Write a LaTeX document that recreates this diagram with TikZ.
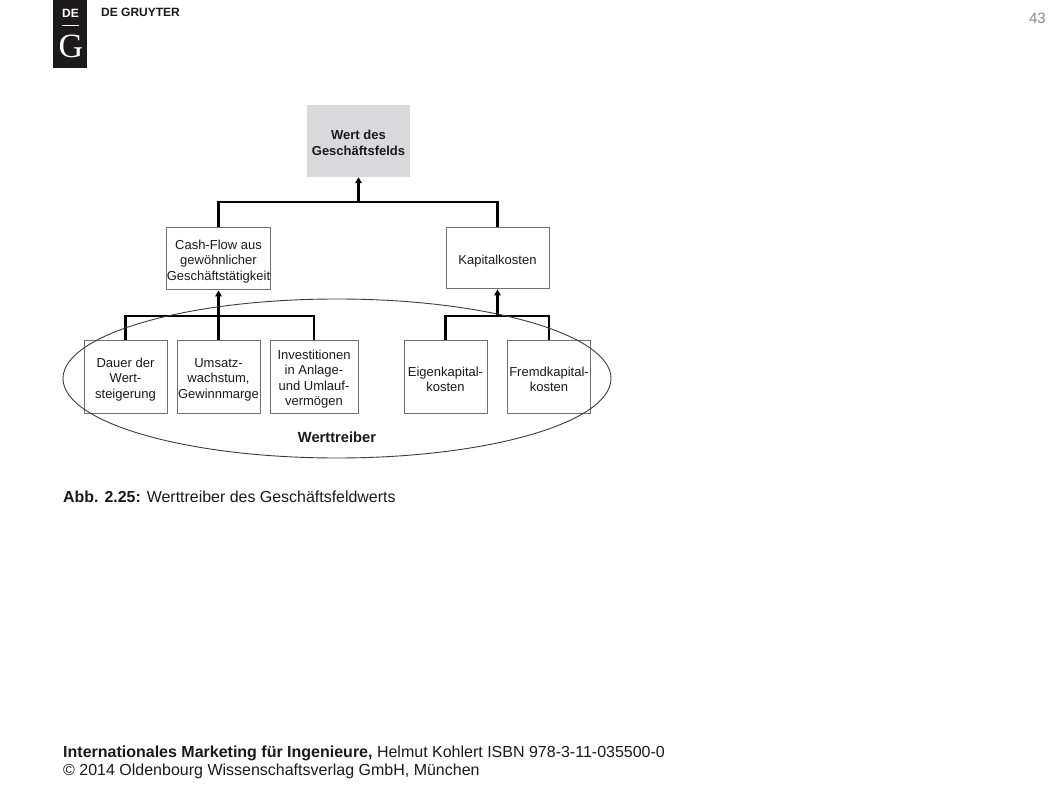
\documentclass[tikz,border=0pt]{standalone}
\usepackage{fontspec}
\setmainfont{Liberation Sans}
\newfontfamily\serifface{Liberation Serif}
\usetikzlibrary{shapes.geometric,arrows.meta}
\definecolor{boxline}{HTML}{707070}
\definecolor{topfill}{HTML}{D9D9DB}
\definecolor{inkc}{HTML}{1A1A1A}
\definecolor{logoc}{HTML}{1C1A1B}
\definecolor{pagec}{HTML}{8A8A8A}
\tikzset{
  x=1pt,y=-1pt,
  box/.style={draw=boxline,line width=1pt,fill=white,inner sep=0pt,align=center,text=inkc,font=\fontsize{13}{15.4}\selectfont},
  topbox/.style={fill=topfill,inner sep=0pt,align=center,text=inkc,font=\bfseries\fontsize{13}{16}\selectfont},
  link/.style={draw=black,line width=2.3pt},
  up/.style={link,-{Triangle[length=6pt,width=6.5pt]}},
  caption/.style={anchor=base west,inner sep=0pt,text=inkc,font=\fontsize{15.95}{18}\selectfont},
  foot/.style={anchor=base west,inner sep=0pt,text=inkc,font=\fontsize{16}{18}\selectfont},
}
\newcommand{\bx}[6]{\node[box,minimum width=#4pt,minimum height=#5pt] (#1) at (#2,#3) {\rule{0pt}{14pt}#6};}
\begin{document}
\begin{tikzpicture}
\useasboundingbox[fill=white] (0,0) rectangle (1058,794);
% logo
\fill[logoc] (53,0) rectangle (87,68);
\node[inner sep=0pt,text=white,font=\bfseries\fontsize{12}{14}\selectfont] (logode) at (70.5,13) {DE};
\fill[white] (62,25) rectangle (79,26.5);
\node[inner sep=0pt,text=white,font=\serifface\fontsize{34}{36}\selectfont] (logog) at (71,46) {G};
\node[anchor=base west,inner sep=0pt,text=inkc,font=\bfseries\fontsize{12}{14}\selectfont] (brand) at (101,16.5) {DE GRUYTER};
\node[anchor=base east,inner sep=0pt,text=pagec,font=\fontsize{15}{17}\selectfont] (page) at (1046,24) {43};
% boxes
\node[topbox,minimum width=103pt,minimum height=72pt] (wert) at (358.5,141) {\rule{0pt}{13pt}Wert des\\Geschäftsfelds};
\bx{cash}{218.5}{259}{103}{62}{Cash-Flow aus\\gewöhnlicher\\Geschäftstätigkeit}
\bx{kap}{497.5}{258.5}{103}{61}{Kapitalkosten}
\bx{dauer}{125.5}{377}{83}{72}{Dauer der\\Wert-\\steigerung}
\bx{umsatz}{218.5}{377}{83}{72}{Umsatz-\\wachstum,\\Gewinnmarge}
\bx{invest}{314}{377}{88}{72}{Investitionen\\in Anlage-\\und Umlauf-\\vermögen}
\bx{eigen}{445.5}{377}{83}{72}{Eigenkapital-\\kosten}
\bx{fremd}{549}{377}{83}{72}{Fremdkapital-\\kosten}
% connectors
\coordinate (bustop) at (358.5,202);
\coordinate (busleft) at (218.5,316);
\coordinate (busright) at (497.5,316);
\draw[link] (cash.north) |- (bustop);
\draw[link] (kap.north) |- (bustop);
\draw[up] (bustop) -- (wert.south);
\draw[link] (dauer.north) |- (busleft);
\draw[link] (invest.north) |- (busleft);
\draw[up] (umsatz.north) -- (cash.south);
\draw[link] (eigen.north) |- (busright);
\draw[link] (fremd.north) |- (busright);
\draw[up] (busright) -- (kap.south);
% ellipse
\node[ellipse,draw=inkc!85,line width=0.9pt,inner sep=0pt,minimum width=548pt,minimum height=159pt] (driver) at (337,378.5) {};
\node[inner sep=0pt,text=inkc,font=\bfseries\fontsize{14.7}{16}\selectfont] (drivertext) at (337,437) {Werttreiber};
% caption and footer
\node[caption] (capt) at (63,502) {\textbf{Abb. 2.25:} Werttreiber des Geschäftsfeldwerts};
\node[foot] (foota) at (63,757) {\textbf{Internationales Marketing für Ingenieure,} Helmut Kohlert ISBN 978-3-11-035500-0};
\node[foot] (footb) at (63,775) {© 2014 Oldenbourg Wissenschaftsverlag GmbH, München};
\end{tikzpicture}
\end{document}
